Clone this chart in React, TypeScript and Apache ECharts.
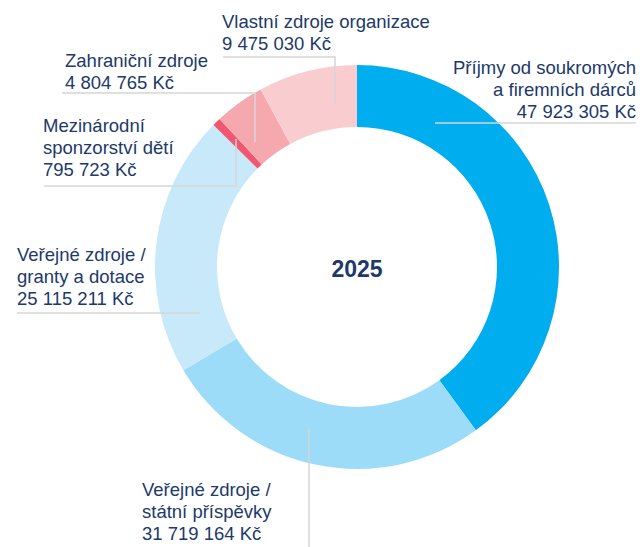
import React, { useEffect, useRef } from "react";
import * as echarts from "echarts";

const categories = [
  "Příjmy od soukromých\na firemních dárců",
  "Veřejné zdroje /\nstátní příspěvky",
  "Veřejné zdroje /\ngranty a dotace",
  "Mezinárodní\nsponzorství dětí",
  "Zahraniční zdroje",
  "Vlastní zdroje organizace",
];
const values = [47923305, 31719164, 25115211, 795723, 4804765, 9475030];
const colors = ["#00adee", "#9ddcf8", "#c8e9f9", "#ef5870", "#f5a9ae", "#f9cdd0"];
const centerLabel = "2025";

// label layout (positions only)
const layouts = [
  { x: 636, y: 56, align: "right", pts: [[435, 123], [435, 123], [636, 123]] },
  { x: 142, y: 478, align: "left", pts: [[309, 429], [309, 547], [309, 547]] },
  { x: 17, y: 243, align: "left", pts: [[200, 313], [17, 313], [17, 313]] },
  { x: 43, y: 114, align: "left", pts: [[236, 139], [236, 186], [44, 186]] },
  { x: 65, y: 49, align: "left", pts: [[255, 142], [255, 93], [62, 93]] },
  { x: 222, y: 10, align: "left", pts: [[335, 104], [335, 57], [223, 57]] },
];

function fmt(v: number): string {
  return String(v).replace(/\B(?=(\d{3})+(?!\d))/g, " ");
}

export default function App() {
  const ref = useRef<HTMLDivElement>(null);
  useEffect(() => {
    if (!ref.current) return;
    const chart = echarts.init(ref.current, undefined, { renderer: "svg" });
    const font = "'Liberation Sans', Arial, sans-serif";
    const data = categories.map((name, i) => ({
      name,
      value: values[i],
      itemStyle: { color: colors[i] },
    }));
    chart.setOption({
      animation: false,
      backgroundColor: "#ffffff",
      graphic: [
        {
          type: "text",
          x: 357,
          y: 269,
          style: {
            text: centerLabel,
            fill: "#1e3a6c",
            font: `bold 23px ${font}`,
            align: "center",
            verticalAlign: "middle",
          },
        },
      ],
      series: [
        {
          type: "pie",
          z: 1,
          center: [357, 267],
          radius: [140, 202],
          startAngle: 90,
          clockwise: true,
          silent: true,
          emphasis: { disabled: true },
          data,
          label: { show: false },
          labelLine: { show: false },
        },
        {
          type: "pie",
          z: 5,
          center: [357, 267],
          radius: [140, 202],
          startAngle: 90,
          clockwise: true,
          silent: true,
          avoidLabelOverlap: false,
          emphasis: { disabled: true },
          itemStyle: { color: "rgba(0,0,0,0)" },
          data: categories.map((name, i) => ({ name, value: values[i] })),
          label: {
            show: true,
            position: "outside",
            formatter: (p: any) => `${p.name}\n${fmt(p.value)} Kč`,
            color: "#21396a",
            fontSize: 18.5,
            fontFamily: font,
            lineHeight: 22,
          },
          labelLine: {
            show: true,
            length: 10,
            length2: 10,
            smooth: false,
            lineStyle: { color: "#d6d6d6", width: 1.5 },
          },
          labelLayout: (params: any) => {
            const l = layouts[params.dataIndex];
            return {
              x: l.x,
              y: l.y,
              align: l.align,
              verticalAlign: "top",
              labelLinePoints: l.pts,
            };
          },
        },
      ],
    });
    return () => chart.dispose();
  }, []);
  return (
    <div
      ref={ref}
      style={{ position: "fixed", left: 0, top: 0, width: 642, height: 547 }}
    />
  );
}
